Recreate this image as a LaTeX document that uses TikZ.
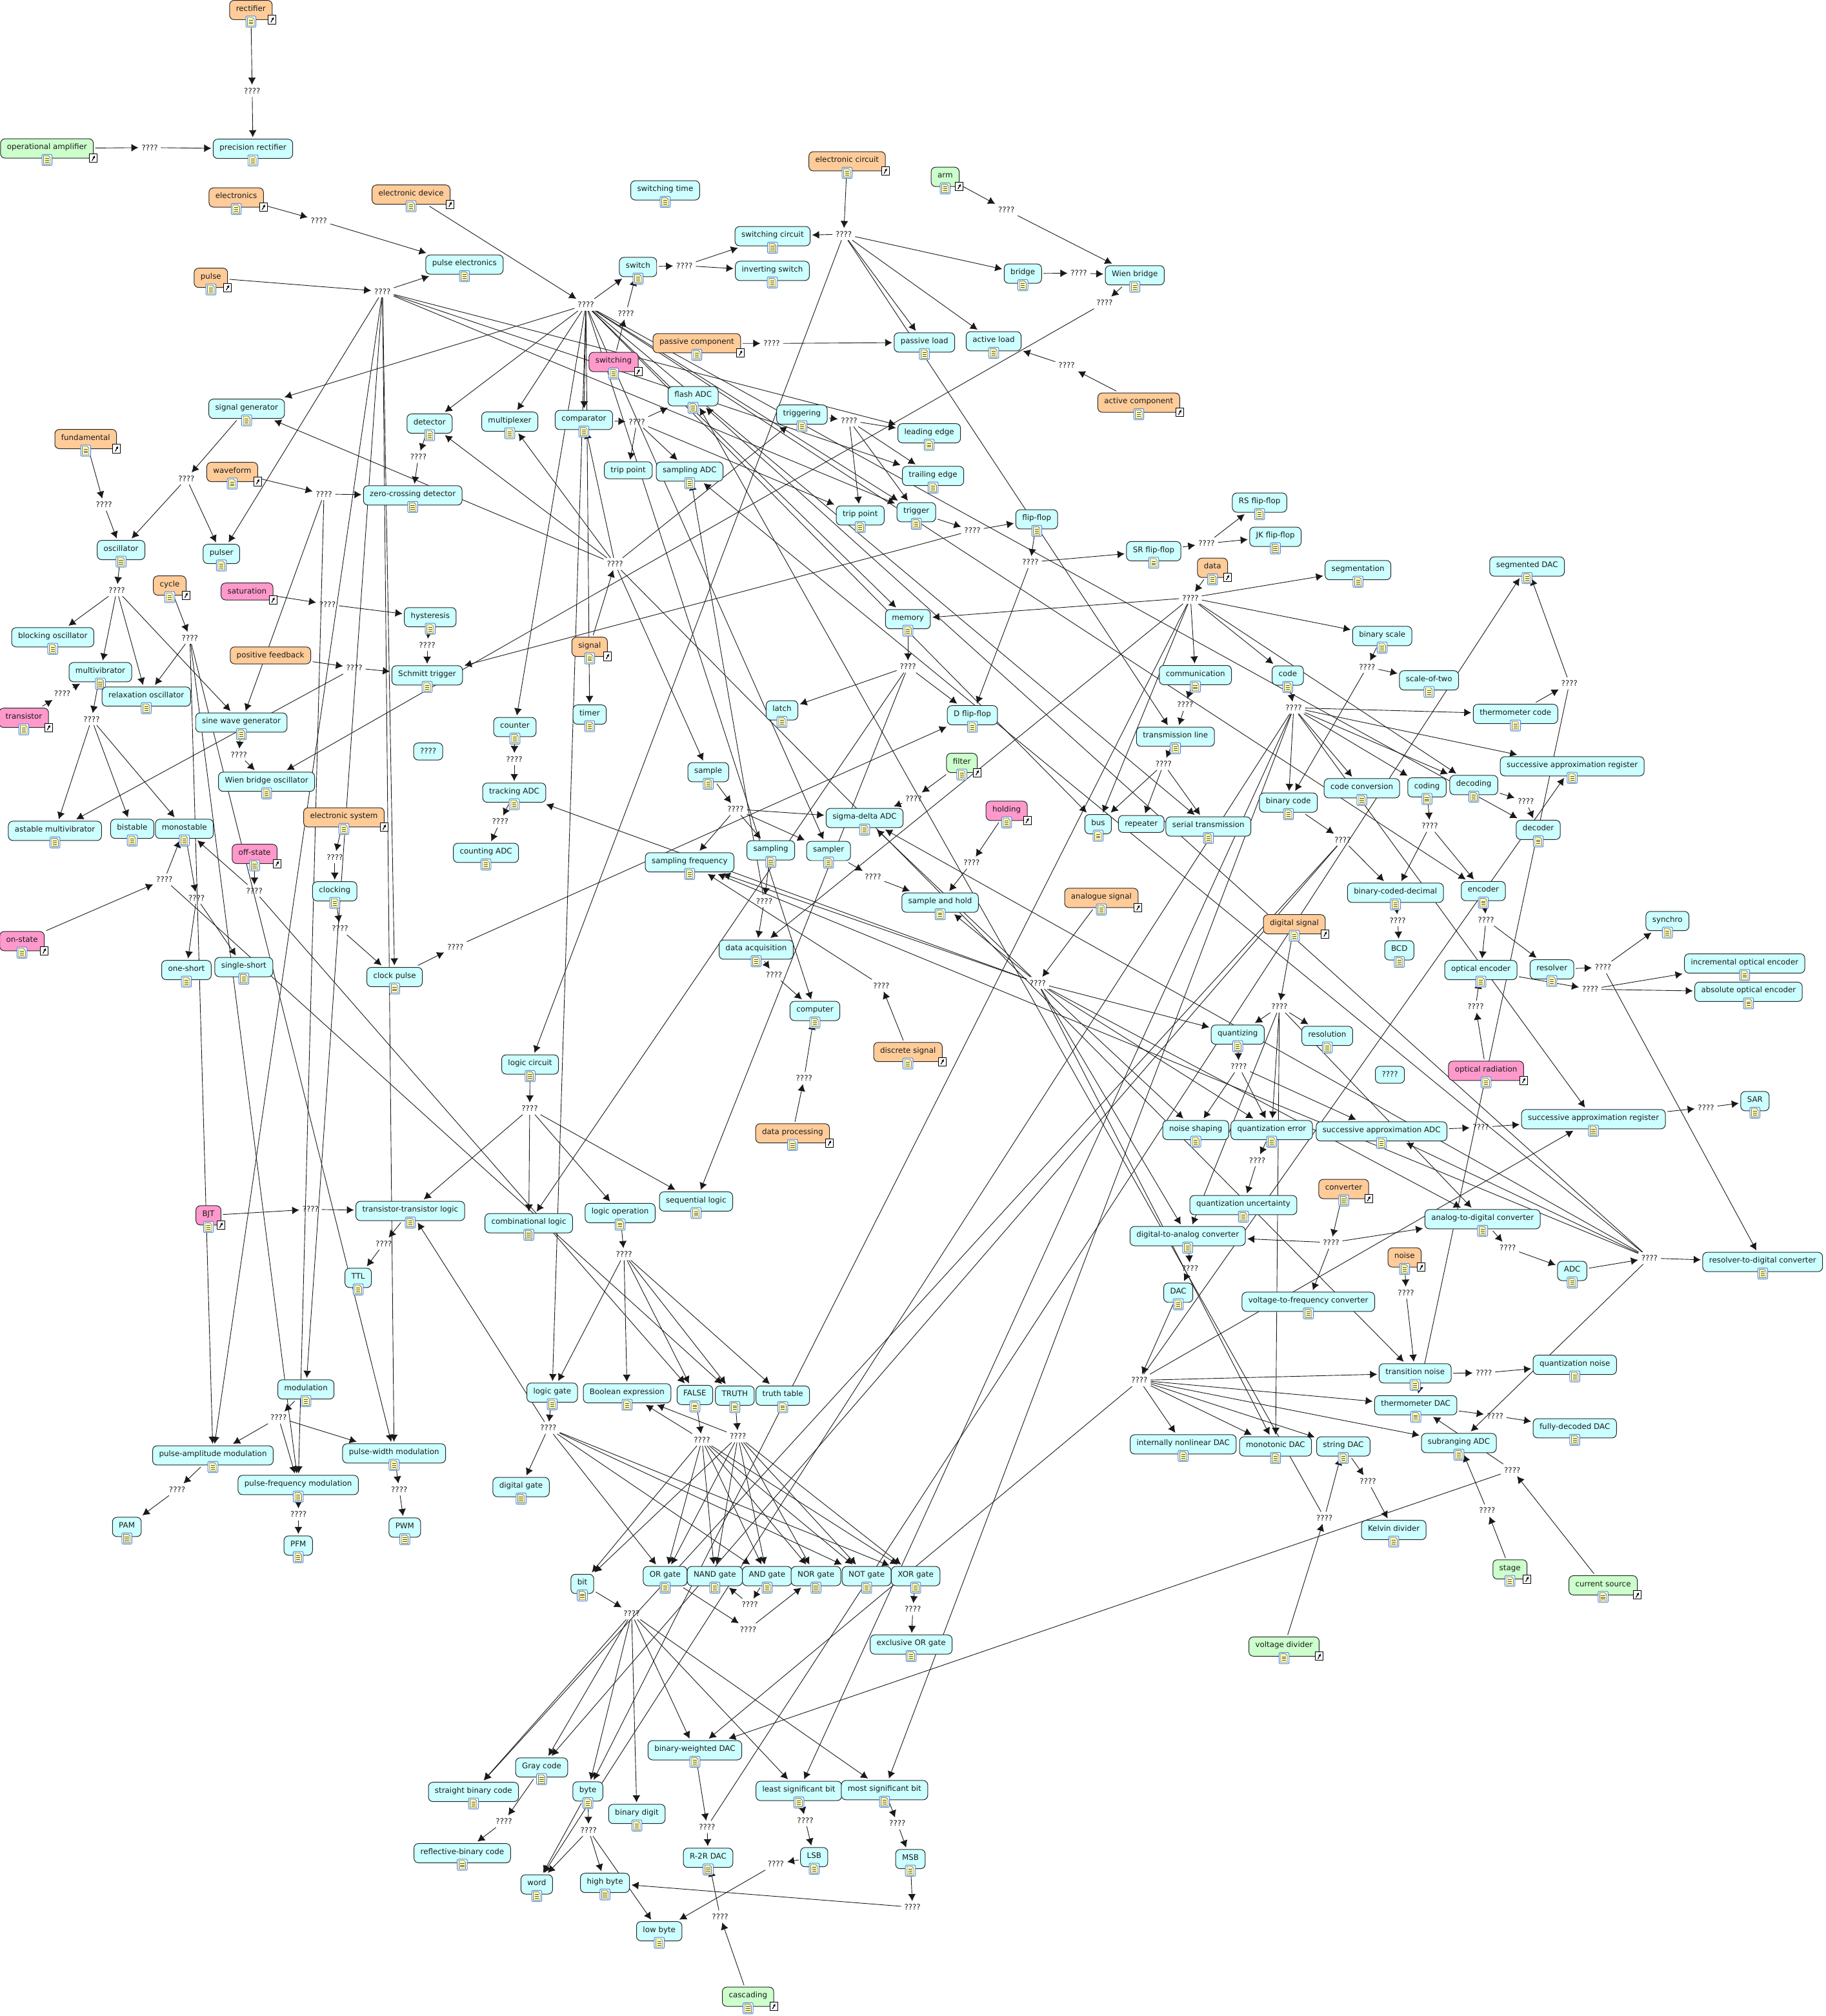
\documentclass[tikz,border=0pt]{standalone}
\usepackage{fontspec}
\setmainfont{DejaVu Sans}
\usetikzlibrary{arrows.meta,backgrounds}
\definecolor{cyanfill}{HTML}{CCFFFF}
\definecolor{orangefill}{HTML}{FFCC99}
\definecolor{greenfill}{HTML}{CCFFCC}
\definecolor{pinkfill}{HTML}{FF99CC}
\definecolor{pagefill}{HTML}{FFFFB0}
\definecolor{iconblue}{HTML}{4A86D8}
\tikzset{
  concept/.style={draw=black!85,rounded corners=3.5pt,inner xsep=5pt,inner ysep=0pt,outer sep=1.5pt,
    text height=8.3pt,text depth=6.7pt,line width=.5pt,text=black!90,font=\fontsize{5.95}{7}\selectfont},
  cyanbox/.style={concept,fill=cyanfill},
  orangebox/.style={concept,fill=orangefill},
  greenbox/.style={concept,fill=greenfill},
  pinkbox/.style={concept,fill=pinkfill},
  noicon/.style={text height=8.2pt,text depth=5pt},
  phrase/.style={inner sep=2.3pt,font=\fontsize{5.95}{7}\selectfont,text=black!90},
  conn/.style={-{Latex[length=5.5pt,width=6pt]},line width=.45pt,black!90},
  docicon/.pic={
    \draw[iconblue,fill=white,rounded corners=1pt,line width=.5pt] (-3.9,-4.3) rectangle (3.9,4.3);
    \draw[black!80,fill=pagefill,line width=.25pt] (-2.6,-3.3) -- (1.2,-3.3) -- (2.6,-1.9) -- (2.6,3.3) -- (-2.6,3.3) -- cycle;
    \foreach \k in {-1.2,.2,1.6} \draw[black!70,line width=.25pt] (-1.6,\k) -- (1.6,\k);
  },
  linkicon/.pic={
    \draw[black,fill=white,line width=.5pt] (-3,-3.3) rectangle (3,3.3);
    \draw[black,line width=.6pt,-{Latex[length=2pt,width=2.2pt]}] (-1,2) -- (1.3,-2);
  }
}
\begin{document}
\begin{tikzpicture}[x=1pt,y=-1pt]
\useasboundingbox (0,0) rectangle (1419.2,1567.2);
% concepts with a note
\foreach \n/\x/\y/\t in {prec/196.6/115.7/precision rectifier,pulseelec/361/205.7/pulse electronics,swtime/517/148/switching time,
  swcircuit/600.5/183.6/switching circuit,invswitch/600.3/210.6/inverting switch,switch/495.9/207.6/switch,bridge/795/212.7/bridge,
  wienbr/882/214/Wien bridge,passload/718.5/266.2/passive load,actload/772.3/265.3/active load,siggen/191.7/317.8/signal generator,
  detector/333.9/329.3/detector,mux/396.2/327.8/multiplexer,comparator/453.8/326.5/comparator,flash/538.7/308/flash ADC,
  triggering/623.3/322.3/triggering,leading/722.2/336.8/leading edge,trailing/725.2/370/trailing edge,samplingadc/536/366.6/sampling ADC,
  zcd/320.8/385.1/zero-crossing detector,trippt2/668.6/400.7/trip point,trigger/712.2/398.2/trigger,flipflop/805.8/403.7/flip-flop,
  srff/896.7/428.5/SR flip-flop,rsff/979/390.7/RS flip-flop,jkff/991.3/417.3/JK flip-flop,oscillator/94.1/427.6/oscillator,
  pulser/172.1/430.6/pulser,blocking/41/495.4/blocking oscillator,hysteresis/334.4/479.8/hysteresis,memory/705.7/481.3/memory,
  segmentation/1055.5/443.2/segmentation,segdac/1186.9/440.4/segmented DAC,binscale/1074.3/494.4/binary scale,
  multivib/78/522.5/multivibrator,relax/113.7/541.5/relaxation oscillator,schmitt/332/525/Schmitt trigger,comm/929.1/524.8/communication,
  code/1000.9/525.1/code,scale2/1110.7/528.9/scale-of-two,sine/187.6/561.7/sine wave generator,timer/458.3/555.5/timer,
  latch/607.8/552.2/latch,dff/755.8/556/D flip-flop,counter/400.2/565.2/counter,txline/913.6/572.7/transmission line,
  thermcode/1177.9/555/thermometer code,sar1/1222/595.7/successive approximation register,sample/550.5/600.3/sample,
  wienosc/207.2/607.7/Wien bridge oscillator,tracking/399.7/616.2/tracking ADC,bincode/1001.4/623.9/binary code,
  codeconv/1058.5/612.8/code conversion,coding/1109.1/612.1/coding,decoding/1145.5/610.3/decoding,sigma/672/635.9/sigma-delta ADC,
  astable/42.7/645.9/astable multivibrator,bistable/102.8/644.3/bistable,monostable/143.3/644.3/monostable,bus/853.5/640.7/bus,
  serial/939.2/642.5/serial transmission,decoder/1195.6/645.1/decoder,counting/377.7/663/counting ADC,
  samplfreq/536/670.4/sampling frequency,sampling/599.1/661/sampling,sampler/644/661.5/sampler,clocking/260.2/692.9/clocking,
  bcdec/1084.6/694/binary-coded-decimal,encoder/1152.9/692.7/encoder,sah/730.7/701.7/sample and hold,synchro/1296/716/synchro,
  bcd/1087.6/738.8/BCD,dacq/587.7/738.2/data acquisition,optenc/1151/754.1/optical encoder,resolver/1206.2/753.6/resolver,
  incopt/1356/749/incremental optical encoder,absopt/1359/771/absolute optical encoder,oneshort/144.9/754.1/one-short,
  singleshort/189.5/751.8/single-short,clockpulse/306.7/759.5/clock pulse,computer/633.4/785.9/computer,quantizing/962/804.3/quantizing,
  resolution/1031.6/805.3/resolution,logiccirc/412/827.5/logic circuit,sarreg/1238.5/870/successive approximation register,
  sar/1364/856/SAR,noiseshape/929.4/878.5/noise shaping,quanterr/988.4/878.5/quantization error,
  saadc/1073.8/879.5/successive approximation ADC,seqlogic/541/934/sequential logic,ttllogic/318.9/941.4/transistor-transistor logic,
  quantunc/966.4/936.8/quantization uncertainty,logicop/482/943/logic operation,comblogic/411/950.9/combinational logic,
  adconv/1152.3/947.8/analog-to-digital converter,daconv/923.1/960.9/digital-to-analog converter,ttl/278.4/993.4/TTL,
  r2d/1370/981/resolver-to-digital converter,adc/1222/988/ADC,dac/915.8/1004.9/DAC,v2f/1016.9/1012/voltage-to-frequency converter,
  quantnoise/1224/1061/quantization noise,transnoise/1099.9/1067.6/transition noise,modulation/237.8/1080.1/modulation,
  logicgate/429.2/1082.6/logic gate,boolexpr/487.4/1083.1/Boolean expression,falsen/540.1/1084.4/FALSE,truth/571.1/1084.9/TRUTH,
  truthtab/608.4/1084.9/truth table,thermdac/1100.4/1092.4/thermometer DAC,fulldac/1224/1110.3/fully-decoded DAC,
  subrange/1133.9/1121.8/subranging ADC,nonlindac/919.6/1122.8/internally nonlinear DAC,monodac/991.4/1124.4/monotonic DAC,
  stringdac/1044.1/1124.4/string DAC,pamod/165.5/1131.4/pulse-amplitude modulation,pwmod/306.3/1129.8/pulse-width modulation,
  pfmod/231.8/1154.4/pulse-frequency modulation,diggate/405/1156/digital gate,pam/98.6/1187/PAM,pfm/231.8/1201.5/PFM,pwm/314.6/1187.5/PWM,
  kelvin/1083.3/1189.4/Kelvin divider,bit/452.6/1231.3/bit,orgate/517/1225.2/OR gate,nandgate/555.6/1225.2/NAND gate,
  andgate/596.2/1225.2/AND gate,norgate/634.2/1225.2/NOR gate,notgate/673.6/1225.2/NOT gate,xorgate/711.7/1225.2/XOR gate,
  exor/708.2/1278.4/exclusive OR gate,bwdac/540.1/1360.6/binary-weighted DAC,straight/368/1393/straight binary code,gray/421/1374/Gray code,
  byte/456.9/1392.6/byte,bindigit/495/1410.1/binary digit,lsbit/620.9/1392.2/least significant bit,msbit/687.5/1391.6/most significant bit,
  reflect/359.3/1440.6/reflective-binary code,r2r/550.4/1444.2/R-2R DAC,lsb/632.8/1443.7/LSB,msb/707.6/1445.2/MSB,word/417.2/1464.9/word,
  highbyte/470.2/1463.7/high byte,lowbyte/512.4/1501.3/low byte}
  {\node[cyanbox] (\n) at (\x,\y) {\t}; \pic at (\n.south) {docicon};}
% concepts with a note and a link
\foreach \n/\x/\y/\t in {rectifier/195/7.8/rectifier,electronics/183.6/153.5/electronics,eldev/319.5/151.3/electronic device,
  pulse/163.9/216/pulse,eleccirc/658.4/125.4/electronic circuit,passcomp/541.6/266.8/passive component,actcomp/885.1/313/active component,
  fundamental/66.6/341.3/fundamental,waveform/180.5/366.9/waveform,data/942.4/441.4/data,cycle/131.9/455.2/cycle,signal/458.3/502.8/signal,
  elecsys/267.3/635.4/electronic system,analogue/856/698/analogue signal,digital/1006/718.5/digital signal,discrete/705.7/817.8/discrete signal,
  dataproc/616/881/data processing,converter/1044.4/924.3/converter,noise/1091.7/977.5/noise}
  {\node[orangebox] (\n) at (\x,\y) {\t}; \pic at (\n.south) {docicon}; \pic at ([shift={(-1.5,-1.5)}]\n.south east) {linkicon};}
\foreach \n/\x/\y/\t in {opamp/36.5/115.4/operational amplifier,arm/734.6/137.5/arm,filter/747.6/593.1/filter,stage/1173.6/1220/stage,
  curr/1246/1232.4/current source,voltdiv/998/1280/voltage divider,cascading/581.4/1552.2/cascading}
  {\node[greenbox] (\n) at (\x,\y) {\t}; \pic at (\n.south) {docicon}; \pic at ([shift={(-1.5,-1.5)}]\n.south east) {linkicon};}
\foreach \n/\x/\y/\t in {switching/476.9/281.4/switching,transistor/18.5/558/transistor,holding/782.4/630.3/holding,offstate/197.9/663.8/off-state,
  onstate/17.1/731.6/on-state,optrad/1155/832.4/optical radiation,bjt/162/944.8/BJT}
  {\node[pinkbox] (\n) at (\x,\y) {\t}; \pic at (\n.south) {docicon}; \pic at ([shift={(-1.5,-1.5)}]\n.south east) {linkicon};}
% concepts without a note
\node[pinkbox,noicon] (saturation) at (192,459.8) {saturation};
\pic at ([shift={(-1.5,-1.5)}]saturation.south east) {linkicon};
\node[orangebox,noicon] (posfb) at (210.2,509.5) {positive feedback};
\node[cyanbox,noicon] (trippt) at (488.3,365.6) {trip point};
\node[cyanbox,noicon] (repeater) at (887,640.5) {repeater};
\node[cyanbox,noicon] (boxa) at (332.8,584.2) {????};
\node[cyanbox,noicon] (boxb) at (1080.3,835.5) {????};
% linking phrases
\foreach \n/\x/\y in {q1/196/70.6,q2/116.4/114.7,q3/247.9/171.4,q4/297.3/226.6,q5/455.4/237,q6/486.5/243.6,q7/532/206.5,q8/655.8/182,
  q9/782.2/163.2,q10/838.5/212.3,q11/858.5/235.3,q12/755.8/412.4,q13/829/284.1,q14/599.8/267,q15/495/328,q16/660/326.9,q17/325.2/355.1,
  q18/251.8/384.1,q19/144.9/372,q20/80.8/392.3,q21/478/438.4,q22/90.8/458.8,q23/254.5/469.8,q24/147.6/495.9,q25/332/501.3,q26/275.4/519.2,
  q27/48.4/539.4,q28/71.2/559.1,q29/185.7/586.7,q30/399.7/590.1,q31/388.8/638.7,q32/260.2/666.3,q33/127.8/683.7,q34/197.7/692.4,
  q35/806.6/764.1,q36/152.8/698,q37/264.3/721.9,q38/354/736,q39/411.7/861.8,q40/241.4/940.1,q41/298.3/966.8,q42/800.9/437,q43/705.7/518.2,
  q44/710.1/620.8,q45/571.7/629,q46/755.2/670.7,q47/678.5/681.7,q48/594/700.4,q49/601.6/757.7,q50/685/766.1,q51/925.3/464.7,q52/1062.6/518.4,
  q53/1219.8/531.2,q54/921.2/547.9,q55/1005.5/550.2,q56/904.4/593.9,q57/1186/623,q58/1111.3/642,q59/1043.6/652.8,q60/1086.3/715.5,q61/1155/715,
  q62/1146.9/782.5,q63/994.4/782.5,q64/962.8/829,q65/1151/876.4,q66/977.2/902,q67/1034.6/966,q68/1171.9/970,q69/925/986.2,q70/1092.8/1004.9,
  q71/1153.4/1067.3,q72/885.6/1073,q73/1162.1/1100.6,q74/1175.4/1142.8,q75/1063.2/1151.5,q76/1029.4/1179.9,q77/1155.9/1174.2,q78/426.2/1110,
  q79/573.6/1116.6,q80/545.6/1119.2,q81/582.8/1247.4,q82/709.5/1251,q83/490.9/1254.3,q84/581.5/1266.6,q85/549.6/1420.1,q86/625.9/1415.1,
  q87/697.5/1417.5,q88/457.5/1422.6,q90/937.8/422.5,q91/391.7/1415.9,q92/603/1449,q93/709.2/1482.6,q94/559.7/1489.8,q95/216.5/1102,q96/137.7/1157.9,
  q97/310.3/1157.9,q98/232/1177.3,q99/1246/752,q100/1236/769,q102/1326/861,q103/1282/978,q105/485/975,q106/625/838}
  {\node[phrase] (\n) at (\x,\y) {????};}
%Connectors
\begin{scope}[on background layer]
\foreach \a/\l in {rectifier/{q1},q1/{prec},opamp/{q2},q2/{prec},electronics/{q3},q3/{pulseelec},pulse/{q4},
  q4/{pulseelec,pulser,pamod,modulation,clockpulse,pwmod,leading,trailing,trigger},eldev/{q5},
  q5/{switch,siggen,detector,mux,counter,comparator,logicgate,timer,computer,sampler,memory,bus,serial,decoder,encoder,trigger},
  switching/{q6},q6/{switch},switch/{q7},q7/{swcircuit,invswitch},eleccirc/{q8},q8/{swcircuit,bridge,passload,txline,actload,logiccirc},
  arm/{q9},q9/{wienbr},bridge/{q10},q10/{wienbr},wienbr/{q11},q11/{wienosc},actcomp/{q13},q13/{actload},passcomp/{q14},q14/{passload},
  comparator/{q15},q15/{flash,trippt,samplingadc,trippt2},triggering/{q16},q16/{leading,trailing,trigger,trippt2},detector/{q17},q17/{zcd},
  waveform/{q18},q18/{zcd,sine,pfmod},siggen/{q19},q19/{oscillator,pulser},fundamental/{q20},q20/{oscillator},
  signal/{q21},q21/{comparator,mux,detector,siggen,triggering,sample,transnoise},trigger/{q12},q12/{flipflop,schmitt},
  oscillator/{q22},q22/{blocking,multivib,relax,sine},cycle/{q24},q24/{relax,pamod,pfmod,pwmod},saturation/{q23},q23/{hysteresis},
  hysteresis/{q25},q25/{schmitt},posfb/{q26},q26/{schmitt,astable},transistor/{q27},q27/{multivib},multivib/{q28},q28/{astable,bistable,monostable},
  sine/{q29},q29/{wienosc},counter/{q30},q30/{tracking},tracking/{q31},q31/{counting},elecsys/{q32},q32/{clocking},clocking/{q37},q37/{clockpulse},
  clockpulse/{q38},q38/{dff},onstate/{q33},q33/{monostable,truth},offstate/{q34},q34/{monostable,falsen},monostable/{q36},q36/{oneshort,singleshort},
  logiccirc/{q39},q39/{ttllogic,comblogic,logicop,seqlogic},bjt/{q40},q40/{ttllogic},ttllogic/{q41},q41/{ttl},flipflop/{q42},q42/{srff,dff},
  memory/{q43},q43/{latch,dff,seqlogic,comblogic},filter/{q44},q44/{sigma},sample/{q45},q45/{samplfreq,sampling,sampler,sigma},
  holding/{q46},q46/{sah},sampler/{q47},q47/{sah},sampling/{q48},q48/{samplingadc,dacq},dacq/{q49},q49/{computer},discrete/{q50},q50/{samplfreq},
  analogue/{q35},q35/{sigma,tracking,samplfreq,sah,quantizing,noiseshape,quanterr,adconv,daconv,monodac},srff/{q90},q90/{rsff,jkff},
  data/{q51},q51/{segmentation,binscale,code,decoding,comm,bus,memory,dacq,byte},binscale/{q52},q52/{scale2,bincode},thermcode/{q53},q53/{segdac,thermdac},
  comm/{q54},q54/{txline},code/{q55},q55/{thermcode,sar1,decoding,coding,codeconv,bincode,word,lsbit,msbit,sarreg},txline/{q56},q56/{bus,repeater,serial},
  decoding/{q57},q57/{decoder},coding/{q58},q58/{bcdec,encoder},bincode/{q59},q59/{bcdec,straight,gray},bcdec/{q60},q60/{bcd},encoder/{q61},q61/{optenc,resolver},
  optrad/{q62},q62/{optenc},digital/{q63},q63/{quantizing,resolution,quanterr,monodac,adconv,daconv},quantizing/{q64},q64/{noiseshape,quanterr,saadc},
  saadc/{q65},q65/{sarreg},quanterr/{q66},q66/{quantunc},converter/{q67},q67/{adconv,daconv,v2f},adconv/{q68},q68/{adc},daconv/{q69},q69/{dac},dac/{q72},
  noise/{q70},q70/{transnoise},transnoise/{q71},q71/{quantnoise},q72/{transnoise,thermdac,subrange,stringdac,monodac,nonlindac,bwdac,sarreg,sar1},
  thermdac/{q73},q73/{fulldac},curr/{q74},q74/{thermdac,bwdac},stringdac/{q75},q75/{kelvin},voltdiv/{q76},q76/{stringdac,flash},stage/{q77},q77/{subrange},
  logicgate/{q78},q78/{diggate,orgate,andgate,notgate,xorgate,ttllogic},truth/{q79},falsen/{q80},
  q79/{boolexpr,bit,orgate,nandgate,andgate,norgate,notgate,xorgate},q80/{boolexpr,bit,orgate,nandgate,andgate,norgate,notgate,xorgate},
  andgate/{q81},q81/{nandgate},xorgate/{q82},q82/{exor},bit/{q83},q83/{straight,gray,byte,bindigit,bwdac,lsbit,msbit},orgate/{q84},q84/{norgate},
  bwdac/{q85},q85/{r2r,segdac},lsbit/{q86},q86/{lsb},msbit/{q87},q87/{msb},byte/{q88,word},q88/{word,highbyte,lowbyte},gray/{q91},q91/{reflect},
  lsb/{q92},q92/{lowbyte},msb/{q93},q93/{highbyte},cascading/{q94},q94/{r2r},modulation/{q95},q95/{pamod,pwmod,pfmod},pamod/{q96},q96/{pam},
  pwmod/{q97},q97/{pwm},pfmod/{q98},q98/{pfm},resolver/{q99},q99/{synchro,r2d},optenc/{q100},q100/{incopt,absopt},sarreg/{q102},q102/{sar},adc/{q103},
  q103/{flash,samplingadc,sigma,samplfreq,saadc,subrange,r2d},logicop/{q105},q105/{logicgate,boolexpr,falsen,truth,truthtab},dataproc/{q106},q106/{computer}}
  {\foreach \b in \l {\draw[conn] (\a) -- (\b);}}
\end{scope}
\end{tikzpicture}
\end{document}
